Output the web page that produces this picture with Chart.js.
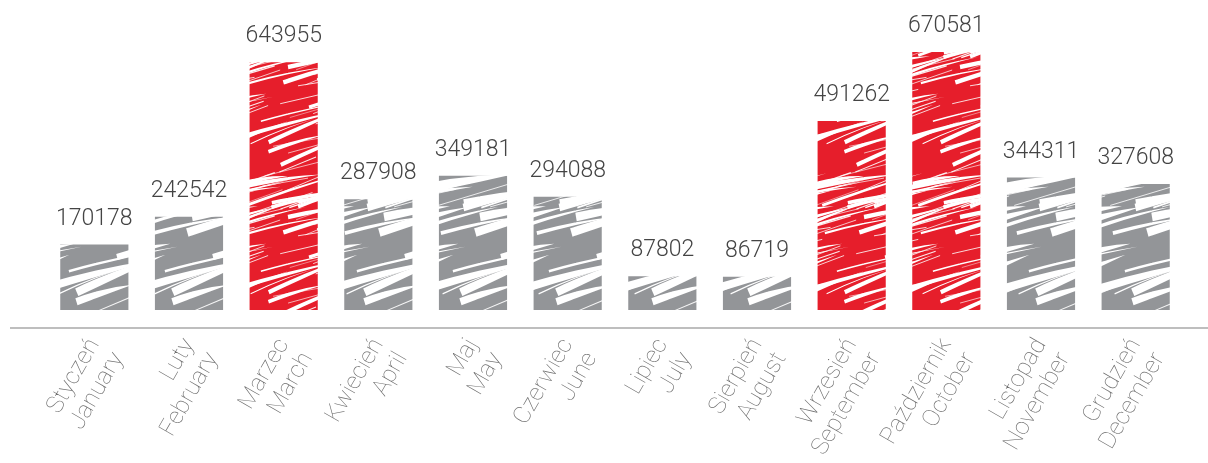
<!DOCTYPE html>
<html>
<head>
<meta charset="utf-8">
<script src="https://cdn.jsdelivr.net/npm/chart.js@4.4.0/dist/chart.umd.min.js"></script>
<style>
  html, body { margin: 0; background: #fff; }
  #wrap { width: 1208px; height: 463px; }
</style>
</head>
<body>
<div id="wrap"><canvas id="chart"></canvas></div>
<script>
// Data
const monthsPl = ['Styczeń', 'Luty', 'Marzec', 'Kwiecień', 'Maj', 'Czerwiec', 'Lipiec', 'Sierpień', 'Wrzesień', 'Październik', 'Listopad', 'Grudzień'];
const monthsEn = ['January', 'February', 'March', 'April', 'May', 'June', 'July', 'August', 'September', 'October', 'November', 'December'];
const values = [170178, 242542, 643955, 287908, 349181, 294088, 87802, 86719, 491262, 670581, 344311, 327608];
const highlighted = [false, false, true, false, false, false, false, false, true, true, false, false];

const GRAY = '#939598';
const RED = '#e61e2b';

// Scribbled fill, drawn once into a small tile and repeated
function scribble(color, count, maxW, thinLines) {
  const W = 96, H = 150;
  const c = document.createElement('canvas');
  c.width = W; c.height = H;
  const g = c.getContext('2d');
  g.fillStyle = color;
  g.fillRect(0, 0, W, H);
  let seed = 11;
  const rnd = () => (seed = (seed * 16807) % 2147483647) / 2147483647;
  g.fillStyle = '#fff';
  g.strokeStyle = 'rgba(255,255,255,0.9)';
  for (let i = 0; i < count; i++) {
    const x0 = rnd() * W, y0 = rnd() * H;
    const len = 45 + rnd() * 70;
    const ang = -0.15 - rnd() * 0.25;
    const w = 1 + rnd() * maxW;
    for (const dx of [-W, 0, W]) {
      for (const dy of [-H, 0, H]) {
        const ax = x0 + dx, ay = y0 + dy;
        const bx = ax + Math.cos(ang) * len, by = ay + Math.sin(ang) * len;
        const nx = -Math.sin(ang) * w / 2, ny = Math.cos(ang) * w / 2;
        g.beginPath();
        g.moveTo(ax + nx, ay + ny);
        g.quadraticCurveTo((ax + bx) / 2 + nx * 1.2, (ay + by) / 2 + ny * 1.2 - 3, bx, by);
        g.quadraticCurveTo((ax + bx) / 2 - nx * 0.8, (ay + by) / 2 - ny * 0.8 - 3, ax - nx, ay - ny);
        g.closePath();
        g.fill();
      }
    }
  }
  for (let i = 0; i < thinLines; i++) {
    const x0 = rnd() * W, y0 = rnd() * H;
    const len = 30 + rnd() * 60;
    const ang = -0.1 - rnd() * 0.3;
    g.lineWidth = 0.5 + rnd() * 0.8;
    for (const dx of [-W, 0, W]) {
      for (const dy of [-H, 0, H]) {
        g.beginPath();
        g.moveTo(x0 + dx, y0 + dy);
        g.lineTo(x0 + dx + Math.cos(ang) * len, y0 + dy + Math.sin(ang) * len);
        g.stroke();
      }
    }
  }
  return document.getElementById('chart').getContext('2d').createPattern(c, 'repeat');
}

const grayFill = scribble(GRAY, 14, 9, 5);
const redFill = scribble(RED, 20, 4, 20);

const labels = monthsPl.map((pl, i) => [pl, monthsEn[i]]);

// Value labels above bars and the long base line
const decorations = {
  id: 'decorations',
  afterDatasetsDraw(chart) {
    const { ctx, chartArea } = chart;
    const meta = chart.getDatasetMeta(0);
    ctx.save();
    ctx.font = '300 23px Roboto';
    ctx.fillStyle = '#444';
    ctx.textAlign = 'center';
    ctx.textBaseline = 'alphabetic';
    meta.data.forEach((bar, i) => {
      ctx.fillText(String(values[i]), bar.x, bar.y - 20);
    });
    ctx.strokeStyle = '#a8a8a8';
    ctx.lineWidth = 1.5;
    ctx.beginPath();
    ctx.moveTo(10, chartArea.bottom);
    ctx.lineTo(chart.width, chartArea.bottom);
    ctx.stroke();
    ctx.restore();
  }
};

new Chart(document.getElementById('chart'), {
  type: 'bar',
  data: {
    labels: labels,
    datasets: [{
      data: values,
      backgroundColor: values.map((v, i) => highlighted[i] ? redFill : grayFill),
      borderWidth: 0,
      barPercentage: 0.72,
      categoryPercentage: 1
    }]
  },
  options: {
    responsive: true,
    maintainAspectRatio: false,
    animation: false,
    layout: { padding: { top: 52, left: 47, right: 25, bottom: 0 } },
    plugins: { legend: { display: false }, tooltip: { enabled: false } },
    scales: {
      y: {
        display: false,
        min: -46800,
        max: 670581
      },
      x: {
        border: { display: false },
        grid: { display: false, drawTicks: false },
        ticks: {
          autoSkip: false,
          maxRotation: 60,
          minRotation: 60,
          padding: 6,
          color: '#6f6f6f',
          font: { family: 'Roboto', weight: '100', size: 24, lineHeight: 1.15 }
        },
        afterFit(scale) { scale.height = 135; }
      }
    }
  },
  plugins: [decorations]
});
</script>
</body>
</html>
